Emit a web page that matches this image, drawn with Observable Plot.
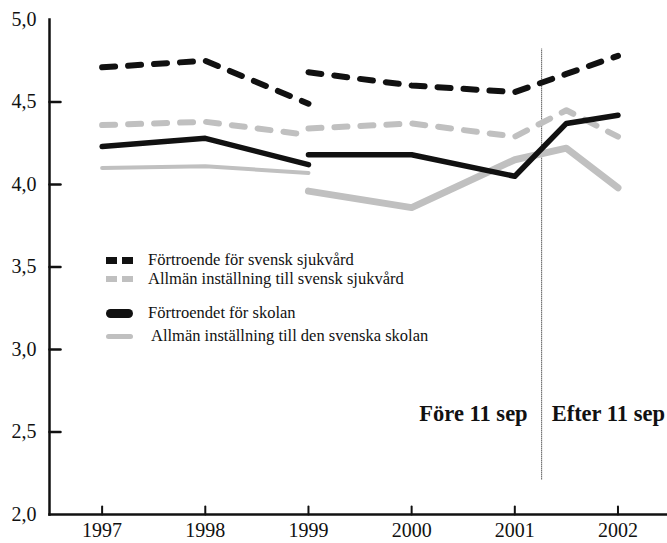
<!DOCTYPE html>
<html>
<head>
<meta charset="utf-8">
<script src="https://cdn.jsdelivr.net/npm/d3@7"></script>
<script src="https://cdn.jsdelivr.net/npm/@observablehq/plot@0.6"></script>
<style>
  html, body { margin: 0; padding: 0; background: #fff; }
  #wrap { position: relative; width: 667px; height: 543px; font-family: "Liberation Serif", "Times New Roman", serif; }
  #legend { position: absolute; left: 106px; top: 250px; font-family: "Liberation Serif", "Times New Roman", serif; font-size: 16.5px; color: #111; }
  .row { position: absolute; left: 0; white-space: nowrap; display: flex; align-items: center; height: 20px; }
  .row svg { margin-right: 14px; }
</style>
</head>
<body>
<div id="wrap"><div id="chart"></div><div id="legend"></div></div>
<script>
// ---- data ----
const yearsBefore = [1997, 1998, 1999];
const yearsAfter = [1999, 2000, 2001, 2001.5, 2002];
const seriesNames = [
  "Förtroende för svensk sjukvård",
  "Allmän inställning till svensk sjukvård",
  "Förtroendet för skolan",
  "Allmän inställning till den svenska skolan"
];
const sjukvardTrustBefore = [4.71, 4.75, 4.49];
const sjukvardTrustAfter = [4.68, 4.60, 4.56, 4.67, 4.78];
const sjukvardGeneralBefore = [4.36, 4.38, 4.30];
const sjukvardGeneralAfter = [4.34, 4.37, 4.29, 4.45, 4.29];
const skolanTrustBefore = [4.23, 4.28, 4.12];
const skolanTrustAfter = [4.18, 4.18, 4.05, 4.37, 4.42];
const skolanGeneralBefore = [4.10, 4.11, 4.07];
const skolanGeneralAfter = [3.96, 3.86, 4.15, 4.22, 3.98];
const xTicks = [1997, 1998, 1999, 2000, 2001, 2002];
const yTicks = [2.0, 2.5, 3.0, 3.5, 4.0, 4.5, 5.0];
const sep11 = 2001.26;
const periodLabels = ["Före 11 sep", "Efter 11 sep"];

function rows(years, values, seg) {
  return years.map((x, i) => ({x, y: values[i], seg}));
}
const sjTrust = [...rows(yearsBefore, sjukvardTrustBefore, "a"), ...rows(yearsAfter, sjukvardTrustAfter, "b")];
const sjGen = [...rows(yearsBefore, sjukvardGeneralBefore, "a"), ...rows(yearsAfter, sjukvardGeneralAfter, "b")];
const skTrust = [...rows(yearsBefore, skolanTrustBefore, "a"), ...rows(yearsAfter, skolanTrustAfter, "b")];
const skGenA = rows(yearsBefore, skolanGeneralBefore, "a");
const skGenB = rows(yearsAfter, skolanGeneralAfter, "b");

const BLACK = "#111111", GREY = "#c0c0c0";
const fmt = d => d3.format(".1f")(d).replace(".", ",");
const xDomain = [1996.49, 2002.48];
const yDomain = [2, 5];

// inward tick shape (a plain line of length l)
const tickShape = {draw(context, l) { context.moveTo(0, 0); context.lineTo(0, -l); }};

const chart = Plot.plot({
  width: 667,
  height: 543,
  marginTop: 19,
  marginBottom: 29,
  marginLeft: 49,
  marginRight: 0,
  style: {fontFamily: "'Liberation Serif', 'Times New Roman', serif", color: "#111", background: "#fff"},
  x: {domain: xDomain, label: null},
  y: {domain: yDomain, label: null},
  marks: [
    Plot.frame({anchor: "left", stroke: BLACK, strokeWidth: 2.5}),
    Plot.frame({anchor: "bottom", stroke: BLACK, strokeWidth: 2.5}),
    Plot.vector(yTicks.filter(d => d > 2 && d < 5), {x: xDomain[0], y: d => d, length: 11, rotate: 90, anchor: "start", shape: tickShape, stroke: BLACK, strokeWidth: 2.5}),
    Plot.vector(xTicks, {x: d => d, y: yDomain[0], length: 8, rotate: 0, anchor: "start", shape: tickShape, stroke: BLACK, strokeWidth: 2}),
    Plot.axisY(yTicks, {tickSize: 0, tickPadding: 13, tickFormat: fmt, label: null, fontSize: 20}),
    Plot.axisX(xTicks, {tickSize: 0, tickPadding: 8, tickFormat: d => String(d), label: null, fontSize: 20}),
    Plot.ruleX([sep11], {y1: 2.21, y2: 4.82, stroke: BLACK, strokeWidth: 1, strokeDasharray: "1,1"}),
    Plot.text([periodLabels[0]], {x: sep11, y: 2.61, text: d => d, textAnchor: "end", dx: -14, fontWeight: "bold", fontSize: 22.5}),
    Plot.text([periodLabels[1]], {x: sep11, y: 2.61, text: d => d, textAnchor: "start", dx: 10, fontWeight: "bold", fontSize: 22.5}),
    Plot.line(skGenA, {x: "x", y: "y", z: "seg", stroke: GREY, strokeWidth: 4, strokeLinecap: "round"}),
    Plot.line(skGenB, {x: "x", y: "y", z: "seg", stroke: GREY, strokeWidth: 7, strokeLinecap: "round"}),
    Plot.line(sjGen, {x: "x", y: "y", z: "seg", stroke: GREY, strokeWidth: 6, strokeDasharray: "13,13", strokeLinecap: "round"}),
    Plot.line(skTrust, {x: "x", y: "y", z: "seg", stroke: BLACK, strokeWidth: 5.5, strokeLinecap: "round"}),
    Plot.line(sjTrust, {x: "x", y: "y", z: "seg", stroke: BLACK, strokeWidth: 6, strokeDasharray: "13,13", strokeLinecap: "round"})
  ]
});
// enforce tick label size
d3.select(chart).selectAll('g[aria-label="x-axis tick label"], g[aria-label="y-axis tick label"]')
  .attr("font-size", 20).style("font-size", "20px");
document.getElementById("chart").appendChild(chart);

// ---- legend ----
const legendItems = [
  {name: seriesNames[0], top: 0, swatch: `<rect x="0" y="1" width="11" height="7" fill="${BLACK}"/><rect x="16" y="1" width="11" height="7" fill="${BLACK}"/>`},
  {name: seriesNames[1], top: 19, swatch: `<rect x="0" y="1" width="11" height="6" fill="${GREY}"/><rect x="16" y="1" width="11" height="6" fill="${GREY}"/>`},
  {name: seriesNames[2], top: 53, swatch: `<rect x="0" y="0" width="27" height="9" rx="4.5" fill="${BLACK}"/>`},
  {name: seriesNames[3], top: 76, swatch: `<rect x="0" y="2" width="27" height="5" rx="2.5" fill="${GREY}"/>`}
];
const legend = document.getElementById("legend");
legendItems.forEach((item, i) => {
  const row = document.createElement("div");
  row.className = "row";
  row.style.top = item.top + "px";
  row.innerHTML = `<svg width="28" height="9">${item.swatch}</svg><span style="${i === 3 ? 'margin-left:3px' : ''}">${item.name}</span>`;
  legend.appendChild(row);
});
</script>
</body>
</html>
